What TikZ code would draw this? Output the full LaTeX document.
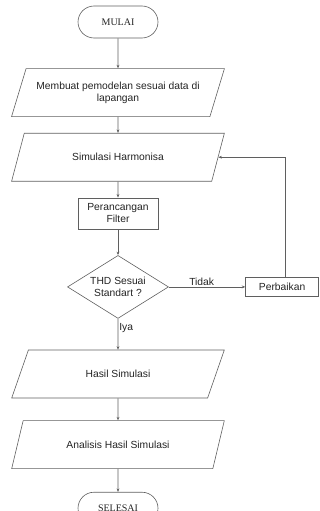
\documentclass[tikz,border=0pt]{standalone}
\usepackage{fontspec}
\setmainfont{Liberation Sans}
\newfontfamily\termfont{Liberation Serif}
\usetikzlibrary{positioning, arrows.meta, shapes.geometric}
\definecolor{linecolor}{RGB}{95, 95, 95}
\definecolor{labelcolor}{RGB}{35, 35, 35}
\tikzset{
  startstop/.style={draw=linecolor, line width=0.6pt, rounded corners=16pt,
    minimum width=80pt, minimum height=32pt, text=labelcolor,
    font=\termfont\fontsize{10}{12}\selectfont},
  iobox/.style={draw=linecolor, line width=0.6pt, trapezium,
    trapezium left angle=65, trapezium right angle=115,
    trapezium stretches=true, minimum width=213pt, minimum height=48pt,
    align=center, text=labelcolor, font=\fontsize{10.3}{12.5}\selectfont},
  procbox/.style={draw=linecolor, line width=0.6pt, align=center,
    text=labelcolor, font=\fontsize{10.3}{12}\selectfont},
  decbox/.style={draw=linecolor, line width=0.6pt, diamond, aspect=1.6,
    inner sep=1pt, minimum width=101pt, minimum height=63pt, align=center,
    text=labelcolor, font=\fontsize{10.3}{12}\selectfont},
  flow/.style={draw=linecolor, line width=0.6pt,
    -{Stealth[length=3.5pt, width=2.8pt]}},
  flowlabel/.style={text=labelcolor, font=\fontsize{10.3}{12}\selectfont, inner sep=1pt}
}

\begin{document}
\begin{tikzpicture}[x=1pt, y=1pt]
        \useasboundingbox (0,0) rectangle (320,-511);
        \node[startstop] (mulai) at (118,-22) {MULAI};
        \node[iobox, below=30pt of mulai] (model)
          {Membuat pemodelan sesuai data di\\lapangan};
        \node[iobox, below=16pt of model] (simulasi) {Simulasi Harmonisa};
        \node[procbox, minimum width=80pt, minimum height=31pt,
              below=16pt of simulasi] (filter) {Perancangan\\Filter};
        \node[decbox, below=26pt of filter] (thd) {THD Sesuai\\Standart ?};
        \node[procbox, minimum width=73pt, minimum height=19pt,
              right=76.5pt of thd] (perbaikan) {Perbaikan};
        \node[iobox, below=31pt of thd] (hasil) {Hasil Simulasi};
        \node[iobox, below=22pt of hasil] (analisis) {Analisis Hasil Simulasi};
        \node[startstop, below=23pt of analisis] (selesai) {SELESAI};

        \draw[flow] (mulai) -- (model);
        \draw[flow] (model) -- (simulasi);
        \draw[flow] (simulasi) -- (filter);
        \draw[flow] (filter) -- (thd);
        \draw[flow] (thd) -- node[flowlabel, above, pos=0.43] {Tidak} (perbaikan);
        \draw[flow] ([xshift=3.5pt]perbaikan.north) |- (simulasi.east);
        \draw[flow] (thd) -- node[flowlabel, right, pos=0.3] {Iya} (hasil);
        \draw[flow] (hasil) -- (analisis);
        \draw[flow] (analisis) -- (selesai);
      \end{tikzpicture}
\end{document}
